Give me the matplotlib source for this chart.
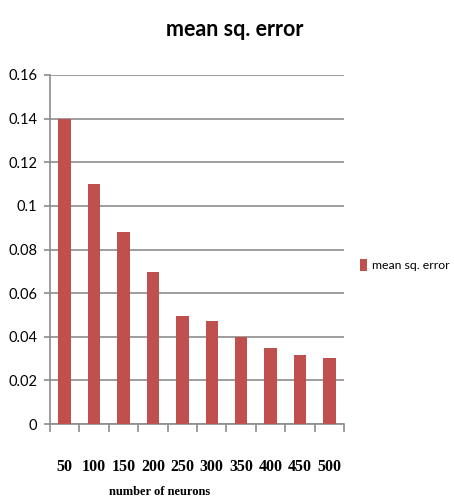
import matplotlib
matplotlib.use("Agg")
import matplotlib.pyplot as plt
import numpy as np

# data
neurons = ['50', '100', '150', '200', '250', '300', '350', '400', '450', '500']
mse = [0.14, 0.11, 0.088, 0.0697, 0.0495, 0.047, 0.0399, 0.035, 0.0318, 0.0301]
yticks = [0, 0.02, 0.04, 0.06, 0.08, 0.1, 0.12, 0.14, 0.16]
ytick_labels = ['0', '0.02', '0.04', '0.06', '0.08', '0.1', '0.12', '0.14', '0.16']

sans = ['Lato', 'DejaVu Sans']
serif = ['Liberation Serif', 'DejaVu Serif']
grid_col = '#8c8c8c'

fig = plt.figure(figsize=(4.54, 5.0), dpi=100)
ax = fig.add_axes([0.110, 0.152, 0.648, 0.698])

x = np.arange(len(neurons))
ax.bar(x, mse, width=0.42, color='#C0504D', zorder=3, label='mean sq. error')

ax.set_xlim(-0.5, len(neurons) - 0.5)
ax.set_ylim(0, 0.16)
ax.set_yticks(yticks)
ax.set_yticklabels(ytick_labels, family=sans, fontsize=10.5)
ax.yaxis.grid(True, color=grid_col, linewidth=1.2, zorder=0)

# category labels in the middle, tick marks on the boundaries
ax.set_xticks(x)
ax.set_xticklabels(neurons, family=serif, fontweight='bold', fontsize=11.5)
ax.set_xticks(np.arange(len(neurons) + 1) - 0.5, minor=True)
ax.tick_params(axis='x', which='major', length=0, pad=25)
ax.tick_params(axis='x', which='minor', length=6, color=grid_col, width=1.2)
ax.tick_params(axis='y', length=4, color=grid_col, width=1.2, pad=5)

for s in ['top', 'right']:
    ax.spines[s].set_visible(False)
for s in ['left', 'bottom']:
    ax.spines[s].set_color(grid_col)
    ax.spines[s].set_linewidth(1.2)

fig.text(0.518, 0.94, 'mean sq. error', family=sans, fontweight='bold',
         fontsize=15.5, ha='center', va='center')
fig.text(0.352, 0.004, 'number of neurons', family=serif, fontweight='bold',
         fontsize=9, ha='center', va='bottom')

ax.legend(loc='center left', bbox_to_anchor=(1.0, 0.455), frameon=False,
          prop={'family': sans, 'size': 8.8}, handlelength=0.6, handleheight=1.1,
          handletextpad=0.4, borderaxespad=0.9)

fig.savefig('out.png', dpi=100)
